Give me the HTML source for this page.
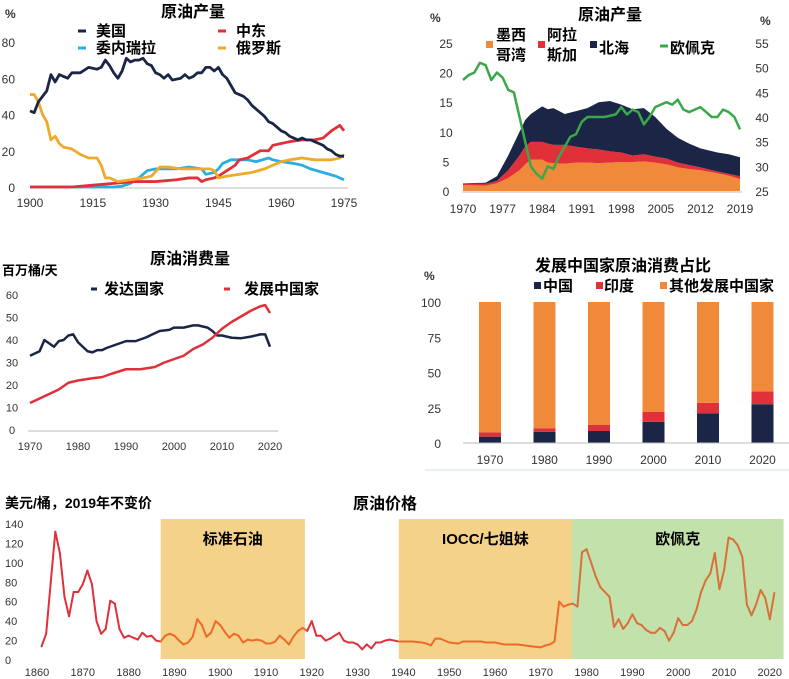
<!DOCTYPE html>
<html><head><meta charset="utf-8"><style>
body{margin:0;background:#fff}
svg{display:block;font-family:"Liberation Sans","Noto Sans CJK SC",sans-serif}
.t{font-weight:bold;font-size:16px;fill:#000}
.l{font-weight:bold;font-size:15px;fill:#000}
.k{font-size:12px;fill:#333}
</style></head><body>
<svg id="s" width="789" height="679" viewBox="0 0 789 679">
<g>
<text class="t" x="193" y="17" text-anchor="middle">原油产量</text>
<text class="k" x="5" y="18" style="font-weight:bold">%</text>
<g>
<line x1="78" y1="31" x2="86" y2="31" stroke="#1b2545" stroke-width="3"/><text class="l" x="96" y="36">美国</text>
<line x1="218" y1="31" x2="226" y2="31" stroke="#e0303a" stroke-width="3"/><text class="l" x="236" y="36">中东</text>
<line x1="78" y1="48" x2="86" y2="48" stroke="#2aaee0" stroke-width="3"/><text class="l" x="96" y="53">委内瑞拉</text>
<line x1="218" y1="48" x2="226" y2="48" stroke="#f0aa2a" stroke-width="3"/><text class="l" x="236" y="53">俄罗斯</text>
</g>
<g id="c1"></g>
</g>
<g>
<text class="t" x="610" y="20" text-anchor="middle">原油产量</text>
<text class="k" x="430" y="22" style="font-weight:bold">%</text>
<text class="k" x="760" y="25" style="font-weight:bold">%</text>
<g>
<rect x="486" y="41" width="7" height="7" fill="#f08a3a"/><text class="l" x="496" y="40">墨西</text><text class="l" x="496" y="60">哥湾</text>
<rect x="538" y="41" width="7" height="7" fill="#e0303a"/><text class="l" x="547" y="40">阿拉</text><text class="l" x="547" y="60">斯加</text>
<rect x="590" y="41" width="7" height="7" fill="#1b2545"/><text class="l" x="599" y="53">北海</text>
<line x1="660" y1="46" x2="668" y2="46" stroke="#3aa84a" stroke-width="3"/><text class="l" x="670" y="53">欧佩克</text>
</g>
<g id="c2"></g>
</g>
<g>
<text class="t" x="190" y="264" text-anchor="middle">原油消费量</text>
<text x="2" y="275" style="font-size:13px;font-weight:bold">百万桶/天</text>
<g>
<line x1="91" y1="289" x2="97" y2="289" stroke="#1b2545" stroke-width="3"/><text class="l" x="104" y="294">发达国家</text>
<line x1="224" y1="289" x2="230" y2="289" stroke="#e0303a" stroke-width="3"/><text class="l" x="244" y="294">发展中国家</text>
</g>
<g id="c3"></g>
</g>
<g>
<text class="t" x="623" y="271" text-anchor="middle">发展中国家原油消费占比</text>
<text class="k" x="424" y="280" style="font-weight:bold">%</text>
<g>
<rect x="534" y="282" width="7" height="7" fill="#1b2545"/><text class="l" x="543" y="291">中国</text>
<rect x="596" y="282" width="7" height="7" fill="#e0303a"/><text class="l" x="604" y="291">印度</text>
<rect x="660" y="282" width="7" height="7" fill="#f08a3a"/><text class="l" x="669" y="291">其他发展中国家</text>
</g>
<line x1="425" y1="470" x2="789" y2="470" stroke="#cfe6d6" stroke-width="1"/>
<g id="c4"></g>
</g>
<g>
<text x="5" y="508" style="font-size:14px;font-weight:bold">美元/桶，2019年不变价</text>
<text class="t" x="385" y="509" text-anchor="middle">原油价格</text>
<g id="c5"></g>
</g>
</svg>
<script>
const NS="http://www.w3.org/2000/svg";
function mk(p,t,a){const e=document.createElementNS(NS,t);for(const k in a)e.setAttribute(k,a[k]);p.appendChild(e);return e;}
function txt(p,x,y,s,anchor,cls){const e=mk(p,'text',{x:x,y:y,'text-anchor':anchor||'middle','class':cls||'k'});e.textContent=s;return e;}

const c1UsYears=[1900,1901,1902,1903,1904,1905,1906,1907,1908,1909,1910,1912,1914,1916,1917,1918,1919,1920,1921,1922,1923,1924,1925,1926,1927,1928,1929,1930,1931,1932,1933,1934,1936,1937,1938,1939,1940,1941,1942,1943,1944,1945,1946,1947,1948,1949,1950,1951,1952,1953,1954,1955,1956,1957,1958,1959,1960,1961,1962,1963,1964,1965,1966,1967,1968,1969,1970,1971,1972,1973,1974,1975];
const c1Us=[42,41,47,50,53,62,58,62,61,60,63,63,66,65,66,70,67,63,60,64,71,69,70,70,71,68,67,63,62,60,62,59,60,62,60,61,63,63,66,66,64,66,62,60,56,52,51,50,48,45,43,41,39,36,35,33,31,30,28,27,26,27,26,26,25,24,23,21,20,18,17,17];
const c1MeYears=[1900,1910,1915,1920,1925,1930,1935,1938,1940,1941,1942,1944,1945,1947,1949,1950,1952,1955,1957,1958,1960,1962,1965,1968,1970,1972,1974,1975];
const c1Me=[0,0,1,2,3,3,4,5,5,3,4,5,6,9,12,15,16,20,20,23,24,25,26,26,27,31,34,31];
const c1VeYears=[1900,1920,1922,1924,1926,1928,1930,1932,1935,1938,1941,1942,1944,1945,1946,1948,1952,1954,1957,1958,1960,1963,1965,1967,1970,1973,1975];
const c1Ve=[0,0,0.5,2,5,9,10,10,10,11,10,7,8,10,13,15,15,14,16,15,14,13,12,10,8,6,4];
const c1RuYears=[1900,1901,1902,1903,1904,1905,1906,1907,1908,1910,1912,1914,1916,1917,1918,1919,1920,1921,1924,1927,1929,1931,1933,1936,1938,1941,1943,1944,1945,1947,1950,1953,1956,1958,1960,1962,1965,1968,1972,1974,1975];
const c1Ru=[51,51,47,40,36,26,28,24,22,21,18,16,16,12,5,5,4,3,4,5,6,11,11,10,10,10,10,9,5,6,7,8,10,12,14,15,16,15,15,16,18];
const c1XTicks=[1900,1915,1930,1945,1960,1975];
const c1YTicks=[0,20,40,60,80];
(function(){
 const g=document.getElementById('c1');
 const X=y=>30+(y-1900)*(314/75), Y=v=>187-v*(145/80);
 mk(g,'line',{x1:30,y1:188,x2:348,y2:188,stroke:'#bbb'});
 c1YTicks.forEach(v=>txt(g,15,Y(v)+5,String(v),'end'));
 c1XTicks.forEach(v=>txt(g,X(v),207,String(v)));
 const line=(ys,vs,c,n)=>{const p=mk(g,'polyline',{points:ys.map((y,i)=>X(y)+','+Y(vs[i])).join(' '),fill:'none',stroke:c,'stroke-width':2.8,'stroke-linejoin':'round'});
 
 };
 line(c1VeYears,c1Ve,'#2aaee0','line-venezuela');
 line(c1MeYears,c1Me,'#e0303a','line-middle-east');
 line(c1RuYears,c1Ru,'#f0aa2a','line-russia');
 line(c1UsYears,c1Us,'#1b2545','line-us');
})();

const c2Years=[1970,1974,1976,1978,1980,1981,1982,1984,1985,1986,1988,1990,1992,1994,1996,1998,2000,2002,2004,2006,2008,2010,2012,2015,2017,2019];
const c2Mexico=[1.0,0.9,1.3,2.2,3.5,4.5,5.3,5.3,4.8,4.7,4.6,4.8,4.8,4.7,4.8,4.9,4.9,5.0,4.8,4.5,4.0,3.7,3.5,3.0,2.6,2.0];
const c2Alaska=[0.3,0.3,0.4,1.3,2.5,3.0,3.0,3.0,3.2,3.1,3.2,2.7,2.4,2.3,1.9,1.6,1.1,1.2,1.0,1.0,0.8,0.7,0.5,0.3,0.3,0.5];
const c2NorthSea=[0,0.2,0.8,2.5,4,4.5,4.7,6.0,5.8,6.2,5.2,6.0,6.8,8.0,8.5,8.1,7.8,7.8,6.7,5.0,4.2,3.6,3.2,3.2,3.3,3.2];
const c2OpecYears=[1970,1971,1972,1973,1974,1975,1976,1977,1978,1979,1980,1981,1982,1983,1984,1985,1986,1987,1988,1989,1990,1991,1992,1993,1995,1997,1998,1999,2000,2001,2002,2003,2004,2005,2006,2007,2008,2009,2010,2011,2012,2013,2014,2015,2016,2017,2018,2019];
const c2Opec=[47.5,48.5,49,51,50.5,47.5,49,48,45.5,45,40,35,30,28.5,27.5,30,29.5,32,34,36,36.5,39,40,40,40,40.5,42,40.5,41.5,41,38.5,40,42,42.5,43,42.5,43.5,41.5,41,41.5,42,41,40,40,41.5,41,40,37.5];
const c2XTicks=[1970,1977,1984,1991,1998,2005,2012,2019];
const c2LTicks=[0,5,10,15,20,25];
const c2RTicks=[25,30,35,40,45,50,55];
(function(){
 const g=document.getElementById('c2');
 const X=y=>463+(y-1970)*(277/49), Y=v=>191-v*(148/25), YR=v=>191-(v-25)*(148/30);
 c2LTicks.forEach(v=>txt(g,446,Y(v)+5,String(v)));
 c2RTicks.forEach(v=>txt(g,762,YR(v)+5,String(v)));
 c2XTicks.forEach(v=>txt(g,X(v),213,String(v)));
 let base=c2Years.map(()=>0);
 [[c2Mexico,'#f08a3a','area-mexico'],[c2Alaska,'#e0303a','area-alaska'],[c2NorthSea,'#1b2545','area-north-sea']].forEach(([vals,c,n])=>{
  const top=base.map((b,i)=>b+vals[i]);
  const pts=c2Years.map((y,i)=>X(y)+','+Y(top[i])).concat(c2Years.slice().reverse().map((y,j)=>X(y)+','+Y(base[c2Years.length-1-j])));
  const p=mk(g,'polygon',{points:pts.join(' '),fill:c});
  
  
  base=top;});
 mk(g,'line',{x1:462,y1:192,x2:742,y2:192,stroke:'#bbb'});
 const p=mk(g,'polyline',{points:c2OpecYears.map((y,i)=>X(y)+','+YR(c2Opec[i])).join(' '),fill:'none',stroke:'#3aa84a','stroke-width':2.5,'stroke-linejoin':'round'});
 
 
})();

const c3DevYears=[1970,1972,1973,1975,1976,1977,1978,1979,1980,1982,1983,1984,1985,1986,1988,1990,1992,1994,1996,1997,1999,2000,2002,2004,2005,2007,2008,2009,2010,2012,2014,2016,2018,2019,2020];
const c3Developed=[33,35,40,37,39.5,40,42,42.5,39,35,34.5,35.5,35.5,36.5,38,39.5,39.5,41,43,44,44.5,45.5,45.5,46.5,46.5,45.5,44,42,42,41,40.8,41.5,42.5,42.5,37];
const c3DgYears=[1970,1972,1974,1976,1978,1980,1983,1985,1987,1990,1993,1996,1998,2000,2002,2004,2006,2008,2010,2012,2014,2016,2018,2019,2020];
const c3Developing=[12,14,16,18,21,22,23,23.5,25,27,27,28,30,31.5,33,36,38,41,45,48,50.5,53,55,55.5,52];
const c3XTicks=[1970,1980,1990,2000,2010,2020];
const c3YTicks=[0,10,20,30,40,50,60];
(function(){
 const g=document.getElementById('c3');
 const X=y=>30+(y-1970)*4.8, Y=v=>430-v*(135/60);
 mk(g,'line',{x1:28,y1:431,x2:278,y2:431,stroke:'#bbb'});
 c3YTicks.forEach(v=>txt(g,12,Y(v)+4,String(v)).setAttribute('style','font-size:11px'));
 c3XTicks.forEach(v=>txt(g,X(v),450,String(v)).setAttribute('style','font-size:11px'));
 const line=(ys,vs,c,n)=>{const p=mk(g,'polyline',{points:ys.map((y,i)=>X(y)+','+Y(vs[i])).join(' '),fill:'none',stroke:c,'stroke-width':2.5,'stroke-linejoin':'round'});
 
 };
 line(c3DevYears,c3Developed,'#1b2545','line-developed');
 line(c3DgYears,c3Developing,'#e0303a','line-developing');
})();

const c4Cats=['1970','1980','1990','2000','2010','2020'];
const c4China=[4.5,8,8.5,15,21,27.5];
const c4India=[3,2.5,4.5,7,7.5,9];
const c4YTicks=[0,25,50,75,100];
(function(){
 const g=document.getElementById('c4');
 const X=i=>490+i*54.5, Y=v=>443-v*1.41;
 c4YTicks.forEach(v=>txt(g,441,Y(v)+5,String(v),'end'));
 c4Cats.forEach((c,i)=>{
  const a=c4China[i],b=c4India[i],o=100-a-b;
  [[0,a,'#1b2545','bar-china-'],[a,b,'#e0303a','bar-india-'],[a+b,o,'#f08a3a','bar-other-']].forEach(([s,v,col,n])=>{
   const r=mk(g,'rect',{x:X(i)-11,y:Y(s+v),width:22,height:v*1.41,fill:col});
   
   });
  txt(g,X(i),464,c);
 });
 mk(g,'line',{x1:463,y1:443,x2:789,y2:443,stroke:'#bbb'});
})();

const c5Bands=[[1887,'标准石油','#f5d289'],[1939,'IOCC/七姐妹','#f5d289'],[1976.8,'欧佩克','#c3e1aa']];
const c5BandEnds=[1918.5,1976.8,2023];
const c5Years=[1861,1862,1863,1864,1865,1866,1867,1868,1869,1870,1871,1872,1873,1874,1875,1876,1877,1878,1879,1880,1882,1883,1884,1885,1886,1887,1888,1889,1890,1891,1892,1893,1894,1895,1896,1897,1898,1899,1900,1901,1902,1903,1904,1905,1906,1907,1908,1909,1910,1911,1912,1913,1914,1915,1916,1917,1918,1919,1920,1921,1922,1923,1924,1925,1926,1927,1928,1929,1930,1931,1932,1933,1934,1935,1936,1937,1938,1939,1940,1942,1944,1945,1946,1947,1948,1950,1952,1953,1955,1957,1958,1960,1962,1965,1968,1970,1971,1972,1973,1974,1975,1976,1977,1978,1979,1980,1981,1982,1983,1984,1985,1986,1987,1988,1989,1990,1991,1992,1993,1994,1995,1996,1997,1998,1999,2000,2001,2002,2003,2004,2005,2006,2007,2008,2009,2010,2011,2012,2013,2014,2015,2016,2017,2018,2019,2020,2021];
const c5Price=[14,27,80,132,110,65,45,70,70,78,92,78,40,27,32,61,58,32,23,25,21,28,24,25,20,19,25,27,25,20,16,18,24,42,36,24,28,40,36,29,23,27,25,18,21,20,21,20,17,17,19,25,21,16,24,30,33,30,40,25,25,20,22,25,28,20,18,18,16,11,16,12,18,18,20,21,20,19,19,19,18,17,15,22,22,18,17,19,19,19,18,18,16,16,14,13,15,16,19,60,55,57,58,55,111,114,100,86,75,70,65,34,42,32,38,47,38,36,31,28,28,33,30,20,28,43,36,36,40,52,70,82,89,110,73,92,126,124,118,106,57,46,57,72,64,42,69];
const c5XTicks=[1860,1870,1880,1890,1900,1910,1920,1930,1940,1950,1960,1970,1980,1990,2000,2010,2020];
const c5YTicks=[0,20,40,60,80,100,120,140];
(function(){
 const g=document.getElementById('c5');
 const X=y=>37+(y-1860)*4.58, Y=v=>660-v*(136/140);
 c5Bands.forEach(([s,l,c],i)=>{
  const x0=X(s),x1=Math.min(X(c5BandEnds[i]),786);
  const r=mk(g,'rect',{x:x0,y:519,width:x1-x0,height:140,fill:c});
  
  
  txt(g,(x0+x1)/2,544,l,'middle','l');
 });
 c5YTicks.forEach(v=>txt(g,5,Y(v)+4,String(v),'start').setAttribute('style','font-size:11px'));
 c5XTicks.forEach(v=>txt(g,X(v),676,String(v)).setAttribute('style','font-size:11px'));
 const inBand=y=>c5Bands.some(([s],i)=>y>=s&&y<=c5BandEnds[i]);
 for(let i=1;i<c5Years.length;i++){
  const ym=(c5Years[i]+c5Years[i-1])/2;
  const col=ym>1976?'#d8703a':(inBand(ym)?'#ec6a2a':'#e0303a');
  const l=mk(g,'line',{x1:X(c5Years[i-1]),y1:Y(c5Price[i-1]),x2:X(c5Years[i]),y2:Y(c5Price[i]),stroke:col,'stroke-width':2,'stroke-linecap':'round'});
  
  
 }
})();
</script>
</body></html>
